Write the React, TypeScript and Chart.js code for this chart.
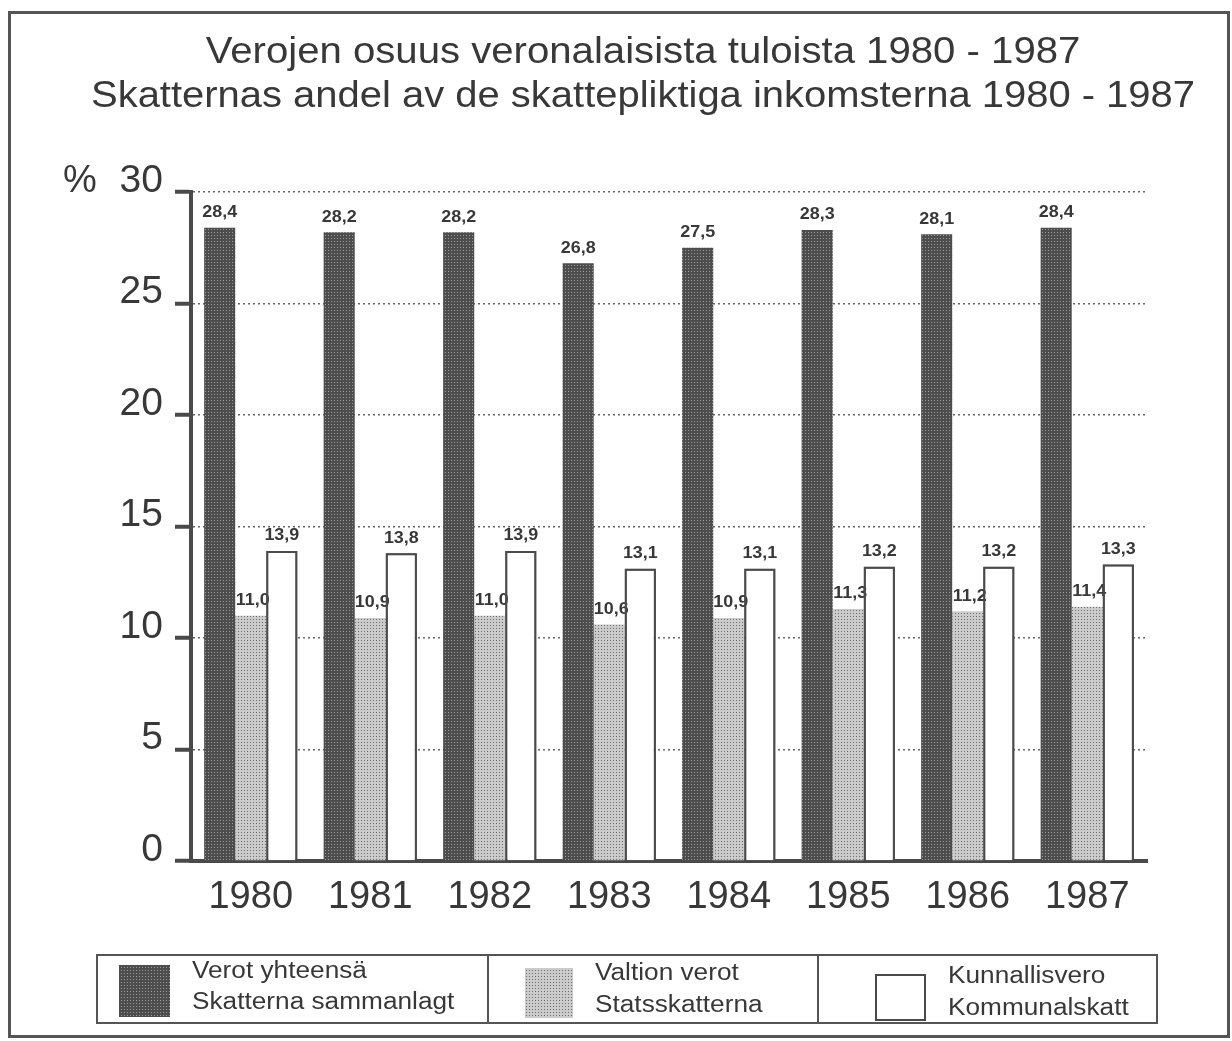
import React, { useEffect, useRef } from "react";
import { Chart, registerables } from "chart.js";

Chart.register(...registerables);

const years = ["1980", "1981", "1982", "1983", "1984", "1985", "1986", "1987"];
const totalTaxes = [28.4, 28.2, 28.2, 26.8, 27.5, 28.3, 28.1, 28.4];
const stateTaxes = [11.0, 10.9, 11.0, 10.6, 10.9, 11.3, 11.2, 11.4];
const municipalTax = [13.9, 13.8, 13.9, 13.1, 13.1, 13.2, 13.2, 13.3];
const seriesNames = [
  ["Verot yhteensä", "Skatterna sammanlagt"],
  ["Valtion verot", "Statsskatterna"],
  ["Kunnallisvero", "Kommunalskatt"],
];
const titleLines = [
  "Verojen osuus veronalaisista tuloista 1980 - 1987",
  "Skatternas andel av de skattepliktiga inkomsterna 1980 - 1987",
];
const yUnit = "%";
const yMin = 0;
const yMax = 30;
const yStep = 5;

const FONT = "'Liberation Sans', Arial, Helvetica, sans-serif";
const INK = "#383838";
const LINE = "#4a4a4a";

function makePattern(bg: string, dot: string): CanvasPattern | string {
  const c = document.createElement("canvas");
  c.width = 3;
  c.height = 3;
  const x = c.getContext("2d");
  if (!x) return bg;
  x.fillStyle = bg;
  x.fillRect(0, 0, 3, 3);
  x.fillStyle = dot;
  x.fillRect(1, 1, 1, 1);
  return x.createPattern(c, "repeat") || bg;
}

const fmt = (v: number) => v.toFixed(1).replace(".", ",");

function stretchText(ctx: CanvasRenderingContext2D, text: string, x: number, y: number, sx: number) {
  ctx.save();
  ctx.translate(x, y);
  ctx.scale(sx, 1);
  ctx.fillText(text, 0, 0);
  ctx.restore();
}

export default function App() {
  const ref = useRef<HTMLCanvasElement | null>(null);

  useEffect(() => {
    const canvas = ref.current;
    if (!canvas) return;
    const darkFill = makePattern("#4d4d4d", "#9a9a9a");
    const lightFill = makePattern("#cbcbcb", "#6e6e6e");
    const fills = [darkFill, lightFill, "#ffffff"];

    const deco = {
      id: "deco",
      beforeDraw(chart: any) {
        const ctx = chart.ctx as CanvasRenderingContext2D;
        ctx.save();
        ctx.fillStyle = "#ffffff";
        ctx.fillRect(0, 0, chart.width, chart.height);
        // frame
        ctx.strokeStyle = "#555";
        ctx.lineWidth = 3;
        ctx.strokeRect(9.5, 12.5, 1219, 1024);
        // title
        ctx.fillStyle = INK;
        ctx.font = `36px ${FONT}`;
        ctx.textAlign = "center";
        ctx.textBaseline = "middle";
        stretchText(ctx, titleLines[0], 643, 53, 1.115);
        stretchText(ctx, titleLines[1], 643, 97, 1.11);
        // unit
        ctx.textAlign = "left";
        ctx.font = `38px ${FONT}`;
        ctx.fillText(yUnit, 63, 182);
        // legend
        ctx.strokeStyle = "#555";
        ctx.lineWidth = 2;
        ctx.strokeRect(97, 955, 1060, 68);
        ctx.beginPath();
        ctx.moveTo(488, 955);
        ctx.lineTo(488, 1023);
        ctx.moveTo(818, 955);
        ctx.lineTo(818, 1023);
        ctx.stroke();
        const sw = [
          { x: 119, y: 965, w: 51, h: 52, tx: 192, ty: [972, 1003] },
          { x: 525, y: 968, w: 48, h: 50, tx: 595, ty: [974, 1006] },
          { x: 876, y: 975, w: 49, h: 45, tx: 948, ty: [977, 1009] },
        ];
        ctx.font = `23px ${FONT}`;
        sw.forEach((s, i) => {
          ctx.fillStyle = fills[i] as any;
          ctx.fillRect(s.x, s.y, s.w, s.h);
          if (i === 2) {
            ctx.strokeStyle = LINE;
            ctx.lineWidth = 2;
            ctx.strokeRect(s.x, s.y, s.w, s.h);
          }
          ctx.fillStyle = INK;
          stretchText(ctx, seriesNames[i][0], s.tx, s.ty[0], 1.14);
          stretchText(ctx, seriesNames[i][1], s.tx, s.ty[1], 1.14);
        });
        ctx.restore();
      },
      afterDatasetsDraw(chart: any) {
        const ctx = chart.ctx as CanvasRenderingContext2D;
        ctx.save();
        ctx.fillStyle = INK;
        ctx.font = `bold 16px ${FONT}`;
        ctx.textAlign = "center";
        ctx.textBaseline = "middle";
        chart.data.datasets.forEach((ds: any, di: number) => {
          const meta = chart.getDatasetMeta(di);
          meta.data.forEach((el: any, i: number) => {
            stretchText(ctx, fmt(ds.data[i]), el.x + (di === 1 ? 2 : 0), el.y - 15, 1.12);
          });
        });
        // re-stroke white bar outlines over the labels
        const meta = chart.getDatasetMeta(2);
        ctx.strokeStyle = LINE;
        ctx.lineWidth = 2;
        meta.data.forEach((el: any) => {
          const w = el.width;
          ctx.beginPath();
          ctx.moveTo(el.x - w / 2 + 1, el.base);
          ctx.lineTo(el.x - w / 2 + 1, el.y + 1);
          ctx.lineTo(el.x + w / 2 - 1, el.y + 1);
          ctx.lineTo(el.x + w / 2 - 1, el.base);
          ctx.stroke();
        });
        ctx.restore();
      },
    };

    const chart = new Chart(canvas, {
      type: "bar",
      data: {
        labels: years,
        datasets: [
          { label: seriesNames[0].join(" / "), data: totalTaxes, backgroundColor: darkFill as any, borderWidth: 0 },
          { label: seriesNames[1].join(" / "), data: stateTaxes, backgroundColor: lightFill as any, borderWidth: 0 },
          {
            label: seriesNames[2].join(" / "),
            data: municipalTax,
            backgroundColor: "#ffffff",
            borderColor: LINE,
            borderWidth: 2,
          },
        ],
      },
      options: {
        animation: false,
        responsive: false,
        maintainAspectRatio: false,
        layout: { padding: { left: 111, right: 85, top: 192, bottom: 120 } },
        datasets: { bar: { categoryPercentage: 0.78, barPercentage: 1 } },
        plugins: {
          legend: { display: false },
          title: { display: false },
          tooltip: { enabled: false },
        },
        scales: {
          x: {
            grid: { display: false, drawTicks: false },
            border: { display: true, color: LINE, width: 4 },
            ticks: { font: { family: FONT, size: 38 }, color: INK, padding: 14 },
            afterFit: (s: any) => {
              s.height = 60;
            },
          },
          y: {
            min: yMin,
            max: yMax,
            ticks: {
              stepSize: yStep,
              font: { family: FONT, size: 39 },
              color: INK,
              padding: 12,
              labelOffset: -11,
            },
            grid: {
              color: "#666",
              lineWidth: 1.5,
              tickLength: 16,
              tickColor: LINE,
              tickWidth: 4,
              tickBorderDash: [],
            },
            border: { display: true, color: LINE, width: 4, dash: [2, 3] },
            afterFit: (s: any) => {
              s.width = 80;
            },
          },
        },
      } as any,
      plugins: [deco],
    });
    return () => chart.destroy();
  }, []);

  return (
    <canvas
      ref={ref}
      width={1232}
      height={1041}
      style={{ position: "fixed", left: 0, top: 0, display: "block" }}
    />
  );
}
